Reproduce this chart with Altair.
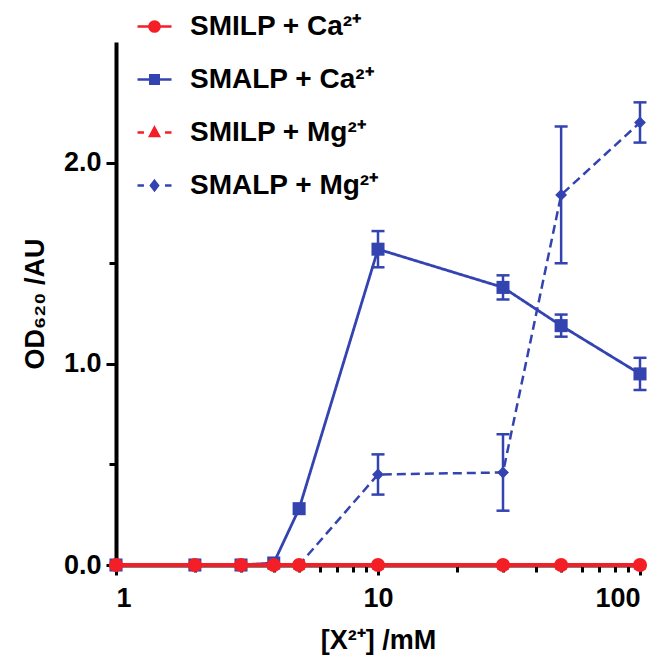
import altair as alt
import pandas as pd

# ---- data ----
conc = [1, 2, 3, 4, 5, 10, 30, 50, 100]           # [X2+] / mM
smilp_ca = [0.0, 0.0, 0.0, 0.0, 0.0, 0.0, 0.0, 0.0, 0.0]
smalp_ca = [0.0, 0.0, 0.0, 0.01, 0.28, 1.57, 1.38, 1.19, 0.95]
smalp_ca_err = [0.0, 0.0, 0.0, 0.0, 0.02, 0.09, 0.06, 0.055, 0.08]
smilp_mg = [0.0, 0.0, 0.0, 0.0, 0.0, 0.0, 0.0, 0.0, 0.0]
smalp_mg = [0.0, 0.0, 0.0, 0.0, 0.0, 0.45, 0.46, 1.84, 2.20]
smalp_mg_err = [0.0, 0.0, 0.0, 0.0, 0.0, 0.10, 0.19, 0.34, 0.10]

labels = ["SMILP + Ca²⁺", "SMALP + Ca²⁺", "SMILP + Mg²⁺", "SMALP + Mg²⁺"]
x_ticks = [1, 2, 3, 4, 5, 6, 7, 8, 9, 10, 20, 30, 40, 50, 60, 70, 80, 90, 100]
y_ticks = [0, 0.5, 1.0, 1.5, 2.0]

RED = "#f41e26"
BLUE = "#3343b0"
FONT = "Liberation Sans"

def frame(vals, errs, name):
    return pd.DataFrame({
        "x": conc, "y": vals, "err": errs,
        "lo": [v - e for v, e in zip(vals, errs)],
        "hi": [v + e for v, e in zip(vals, errs)],
        "series": name,
    })

zeros = [0.0] * len(conc)
d_smilp_ca = frame(smilp_ca, zeros, labels[0])
d_smalp_ca = frame(smalp_ca, smalp_ca_err, labels[1])
d_smilp_mg = frame(smilp_mg, zeros, labels[2])
d_smalp_mg = frame(smalp_mg, smalp_mg_err, labels[3])

xscale = alt.Scale(type="log", domain=[1, 100])
yscale = alt.Scale(domain=[0, 2.5])

major_test = "datum.value == 1 || datum.value == 10 || datum.value == 100"
xaxis = alt.Axis(
    values=x_ticks,
    labelExpr=f"({major_test}) ? datum.value : ''",
    tickSize={"condition": {"test": major_test, "value": 10}, "value": 7},
    title="[X²⁺] /mM",
    titlePadding=16,
    labelPadding=10,
)
yaxis = alt.Axis(
    values=y_ticks,
    labelExpr="(datum.value % 1 == 0) ? format(datum.value, '.1f') : ''",
    tickSize={"condition": {"test": "datum.value % 1 == 0", "value": 10}, "value": 7},
    title="OD₆₂₀ /AU",
    titlePadding=14,
    labelPadding=5,
)

X = alt.X("x:Q", scale=xscale, axis=xaxis)
Y = alt.Y("y:Q", scale=yscale, axis=yaxis)


def series_layers(df, color, dash, width, shape, size, with_err):
    base = alt.Chart(df)
    layers = [
        base.mark_line(color=color, strokeDash=dash, strokeWidth=width).encode(x=X, y=Y)
    ]
    if with_err:
        eb = base.transform_filter("datum.err > 0.03")
        layers.append(
            eb.mark_rule(color=color, strokeWidth=2.5, opacity=1).encode(
                x="x:Q", y="lo:Q", y2="hi:Q")
        )
        layers.append(
            eb.mark_tick(color=color, orient="horizontal", size=13, thickness=2.5,
                         opacity=1).encode(x="x:Q", y="lo:Q")
        )
        layers.append(
            eb.mark_tick(color=color, orient="horizontal", size=13, thickness=2.5,
                         opacity=1).encode(x="x:Q", y="hi:Q")
        )
    layers.append(
        base.mark_point(shape=shape, filled=True, color=color, size=size, opacity=1).encode(
            x="x:Q", y="y:Q")
    )
    return layers


layers = []
layers += series_layers(d_smalp_mg, BLUE, [9, 5], 2.5, "diamond", 140, True)
layers += series_layers(d_smalp_ca, BLUE, [1, 0], 2.8, "square", 170, True)
layers += series_layers(d_smilp_mg, RED, [9, 5], 3.8, "triangle-up", 140, False)
layers += series_layers(d_smilp_ca, RED, [1, 0], 3.8, "circle", 200, False)

# ---- legend (line + marker symbols) ----
circ = "M-0.3,0A0.3,0.3,0,1,0,0.3,0A0.3,0.3,0,1,0,-0.3,0Z"
square = "M-0.25,-0.25H0.25V0.25H-0.25Z"
tri = "M0,-0.28L0.26,0.2H-0.26Z"
diamond = "M0,-0.27L0.21,0L0,0.27L-0.21,0Z"
solid = "M-1,0H1"
dashed = "M-1,0H-0.62M0.62,0H1"
paths = [solid + circ, solid + square, dashed + tri, dashed + diamond]
colors = [RED, BLUE, RED, BLUE]

legend = alt.Legend(
    orient="none", legendX=20, legendY=-34, title=None,
    labelFont=FONT, labelFontSize=28, labelFontWeight="bold", labelColor="black",
    labelLimit=400, labelOffset=17, rowPadding=20, padding=0,
    symbolSize=1156, symbolStrokeWidth=2.5, symbolOpacity=1,
)
leg_df = pd.DataFrame({"label": labels, "x": [1, 1, 1, 1], "y": [0, 0, 0, 0]})
legend_layer = alt.Chart(leg_df).transform_filter("false").mark_point(strokeWidth=2.5).encode(
    x="x:Q", y="y:Q",
    fill=alt.Fill("label:N", scale=alt.Scale(domain=labels, range=colors), legend=legend),
    stroke=alt.Stroke("label:N", scale=alt.Scale(domain=labels, range=colors), legend=legend),
    shape=alt.Shape("label:N", scale=alt.Scale(domain=labels, range=paths), legend=legend),
)

chart = alt.layer(*layers, legend_layer).properties(
    width=524, height=523,
    background="white",
    autosize=alt.AutoSizeParams(type="none"),
    padding={"left": 108, "top": 34, "right": 21, "bottom": 95},
).configure_view(stroke=None).configure_axis(
    grid=False,
    domainColor="black", domainWidth=4,
    tickColor="black", tickWidth=3,
    labelFont=FONT, labelFontSize=27, labelFontWeight="bold", labelColor="black",
    titleFont=FONT, titleFontSize=27, titleFontWeight="bold", titleColor="black",
)

chart.save("out.html", embed_options={"renderer": "svg", "actions": False})
